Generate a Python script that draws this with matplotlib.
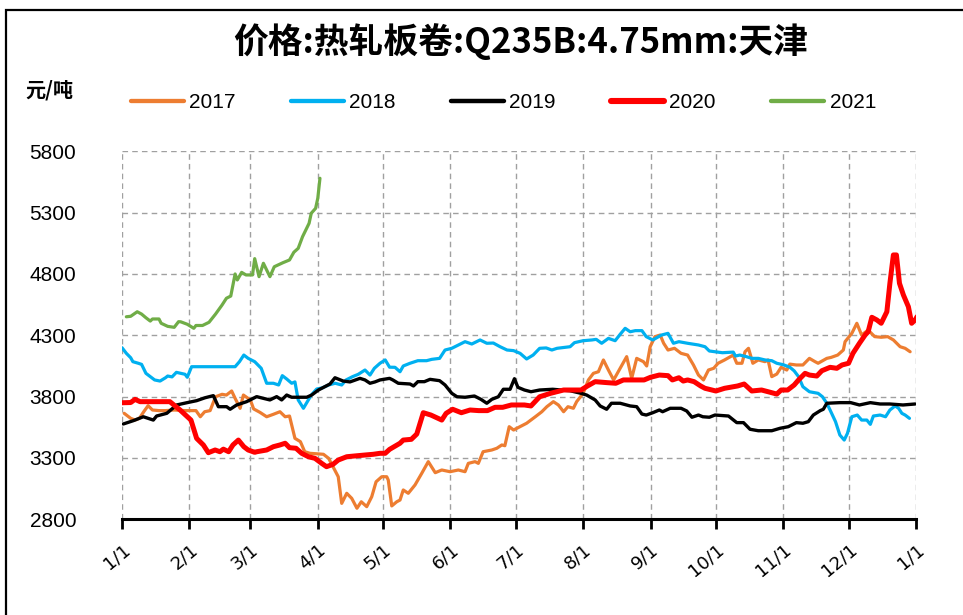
import matplotlib
matplotlib.use('Agg')
import matplotlib.pyplot as plt
from matplotlib.patches import Rectangle

plt.rcParams['font.family'] = ['Liberation Sans', 'Noto Sans CJK SC', 'DejaVu Sans']

title = "价格:热轧板卷:Q235B:4.75mm:天津"
unit_label = "元/吨"
month_days = [0, 31, 59, 90, 120, 151, 181, 212, 243, 273, 304, 334, 365]
month_labels = ['1/1', '2/1', '3/1', '4/1', '5/1', '6/1', '7/1', '8/1', '9/1',
                '10/1', '11/1', '12/1', '1/1']
y_ticks = [2800, 3300, 3800, 4300, 4800, 5300, 5800]

days_2017 = [1, 4, 6, 8, 10, 12, 14, 17, 20, 24, 29, 34, 36, 38, 40.5, 43, 46, 48, 50.4, 52, 54.3, 55.8,
             58, 59, 60.5, 63.4, 66.5, 69.6, 72.6, 75, 77, 79.5, 82, 84, 86.4, 92.6, 95, 97, 99.4, 101,
             103.3, 105.6, 108, 110, 112.5, 114.8, 116.8, 119.4, 121.7, 122.4, 124, 126.3, 127.8, 129.3,
             131.6, 134.7, 137.8, 140.8, 144, 147, 150.8, 154.6, 157.7, 159.2, 162.3, 163.8, 166, 170,
             172.3, 174.6, 176, 178, 180, 183, 186, 190, 193, 195.3, 198.3, 200.6, 203, 205, 207.5, 209,
             212, 214.4, 216.7, 219, 221.3, 223.6, 226, 229, 232, 234.3, 236.6, 239.7, 241.2, 242.8, 245,
             247.4, 249, 251, 254, 257, 260, 262.7, 265, 267.3, 269.6, 272, 274, 277, 281, 282.6, 285,
             286.4, 288, 290, 292.5, 295.6, 297, 298.7, 301, 303, 305.6, 307, 310, 313, 316, 318.6, 320,
             324, 326, 329, 331.6, 332.4, 335.5, 337.8, 340, 343, 346, 349, 352, 354.6, 357.7, 360, 362.3]
vals_2017 = [3664, 3623, 3609, 3623, 3677, 3726, 3691, 3686, 3686, 3691, 3686, 3686, 3636, 3677, 3686, 3799,
             3819, 3813, 3846, 3786, 3705, 3813, 3786, 3773, 3700, 3672, 3636, 3656, 3677, 3636, 3642, 3460,
             3433, 3351, 3338, 3330, 3297, 3229, 3147, 2930, 3012, 2971, 2890, 2943, 2903, 2984, 3106, 3147,
             3147, 3120, 2909, 2943, 2957, 3039, 3012, 3080, 3175, 3270, 3180, 3202, 3188, 3202, 3188, 3256,
             3270, 3256, 3351, 3365, 3379, 3406, 3400, 3555, 3528, 3555, 3583, 3636, 3677, 3718, 3759, 3732,
             3677, 3718, 3705, 3759, 3827, 3936, 3990, 4003, 4099, 4017, 3936, 4031, 4126, 3949, 4112, 4085,
             4050, 4207, 4289, 4302, 4235, 4180, 4194, 4153, 4139, 4058, 3976, 3936, 4017, 4031, 4072, 4099,
             4139, 4072, 4072, 4166, 4194, 4072, 4099, 4085, 4099, 3963, 3984, 4039, 4017, 4065, 4058, 4058,
             4112, 4085, 4072, 4112, 4120, 4139, 4180, 4248, 4316, 4398, 4302, 4343, 4289, 4284, 4289, 4262,
             4207, 4194, 4166]

days_2018 = [0, 2, 4, 5, 7.5, 9, 11, 14, 15, 17.5, 20, 21, 23, 25, 27, 29, 30, 32, 36, 52, 54, 56, 58, 61,
             64, 66.5, 69.6, 72, 73.7, 75.7, 78, 79.5, 81, 83.4, 85.7, 87, 89.5, 92, 95, 98, 101, 103, 106,
             108.6, 111.7, 114, 116, 118.6, 121, 123, 125.5, 127.8, 129.3, 132.4, 136, 140, 142.4, 146,
             148.5, 151.6, 154, 157.7, 160.8, 164.6, 167.7, 170.7, 173.8, 177, 180, 183, 186, 189, 192, 195,
             197.6, 200, 206, 208, 212, 216, 218, 220.5, 223.6, 226.7, 229, 231.3, 233.6, 236, 239, 241,
             244, 248, 251, 253.5, 256, 260, 265, 268, 270, 276, 281, 282, 284, 287, 289.5, 292.5, 295.6,
             298.7, 301, 304, 307, 309, 311, 313, 316, 320, 322, 324, 325.5, 328, 330, 332, 333.5, 335.5,
             338, 340, 342.4, 344, 345.4, 348.5, 351, 353, 355.4, 357, 358.5, 360, 362]
vals_2018 = [4199, 4153, 4117, 4085, 4072, 4063, 3990, 3949, 3936, 3927, 3954, 3968, 3961, 3998, 3990, 3982,
             3958, 4044, 4044, 4044, 4085, 4139, 4112, 4085, 4031, 3909, 3909, 3895, 3971, 3944, 3909, 3920,
             3773, 3705, 3773, 3813, 3862, 3871, 3895, 3909, 3895, 3936, 3963, 3982, 4017, 3976, 4031, 4072,
             4099, 4040, 4039, 4003, 4050, 4072, 4093, 4093, 4104, 4112, 4180, 4194, 4215, 4248, 4229, 4262,
             4235, 4237, 4207, 4180, 4175, 4153, 4107, 4139, 4194, 4197, 4180, 4194, 4207, 4240, 4256, 4262,
             4267, 4235, 4275, 4256, 4308, 4357, 4329, 4338, 4338, 4289, 4262, 4302, 4316, 4235, 4248, 4235,
             4221, 4207, 4172, 4158, 4163, 4131, 4139, 4126, 4112, 4112, 4099, 4093, 4072, 4060, 4040, 4010,
             3963, 3881, 3840, 3827, 3799, 3746, 3691, 3596, 3487, 3446, 3501, 3636, 3650, 3609, 3609, 3574,
             3642, 3650, 3636, 3691, 3724, 3705, 3664, 3650, 3623]

days_2019 = [0.6, 5.2, 9.8, 14.4, 15.9, 20.6, 25.1, 29.7, 34.3, 38.2, 42, 44.3, 48.1, 49.7, 52.7, 57.3,
             61.9, 65, 68, 71.1, 73.4, 75.7, 78, 84.9, 87.2, 90.3, 95.6, 97.9, 101.7, 104.8, 109.4, 111.7,
             114, 116.3, 118.6, 123, 124.5, 127, 132.4, 134, 136, 139,
             141.6, 146, 148.5, 151.6, 154, 157.7, 162, 165, 167.7, 170, 173, 175.3, 178.4, 180.4, 182,
             185, 188, 192, 198, 206, 211, 213.6, 217.5, 219.8, 222.8, 225, 229, 233.6, 236.6, 239, 241,
             244, 247, 248.5, 252, 257, 259.6, 262, 265, 267, 270, 272.6, 278.8, 282.6, 285.7, 288.7, 292.5,
             298.7, 302.5, 306.3, 310, 313, 315.5, 317.8, 321, 322.4, 324, 330, 335, 339, 344, 348.5, 353,
             359, 364.6]
vals_2019 = [3577, 3604, 3636, 3609, 3642, 3664, 3732, 3750, 3767, 3791, 3808, 3718, 3718, 3697, 3732, 3759,
             3800, 3786, 3773, 3800, 3773, 3813, 3795, 3795, 3813, 3854, 3903, 3954, 3927, 3920, 3949, 3936,
             3909, 3920, 3936, 3949, 3936,
             3909, 3903, 3887, 3922, 3922, 3941, 3930, 3895, 3827, 3799, 3795, 3805, 3778, 3746, 3778, 3799,
             3860, 3860, 3946, 3876, 3854, 3840, 3854, 3860, 3848, 3827, 3813, 3773, 3724, 3697, 3746, 3746,
             3724, 3718, 3658, 3650, 3669, 3691, 3677, 3705, 3705, 3683, 3632, 3650, 3636, 3632, 3650, 3642,
             3588, 3588, 3534, 3522, 3522, 3542, 3555, 3588, 3583, 3596, 3650, 3686, 3697, 3746, 3751, 3751,
             3732, 3751, 3740, 3740, 3732, 3740]

days_2020 = [0, 4, 6, 8.3, 15, 22, 26.7, 31.7, 34.3, 37.4, 39.7, 42.8, 45, 46.6, 49, 51, 53.5, 56,
             58, 61, 62, 66.5, 69.6, 72.6, 75, 77, 80, 82.6, 85.7, 88.7, 91.8, 94, 97, 99.4, 103.3, 108,
             111.7, 115.5, 118.6, 121, 123, 127.8, 129.3, 133, 135.5, 138.5, 142, 147, 149, 152, 156, 160,
             164, 168, 171.5, 175, 179, 185, 188, 192, 197, 203, 211, 214, 217.5, 223, 227, 230.5, 240, 243,
             247, 251, 253, 256, 258, 260, 263, 266, 268, 273, 277, 283, 286, 289.5, 294, 297, 301, 303, 306,
             309, 311, 314, 316, 319.4, 321.7, 325.5, 328.6, 331, 334, 336, 339, 341.6, 343, 344.7, 347, 349,
             351.6, 353, 354.6, 356, 357.4, 359.2, 361.5, 363, 364.6, 365.5]
vals_2020 = [3750, 3752, 3778, 3759, 3759, 3759, 3691, 3609, 3460, 3406, 3343, 3365, 3351, 3372,
             3351, 3406, 3446, 3392, 3365, 3346, 3351, 3365, 3392, 3406, 3420, 3384, 3379, 3338, 3310, 3297,
             3256, 3229, 3248, 3283, 3310, 3318, 3324, 3330, 3338, 3338, 3370, 3420, 3446, 3452, 3495, 3669,
             3650, 3609, 3664, 3697, 3669, 3691, 3686, 3686, 3713, 3713, 3732, 3732, 3724, 3799, 3827, 3854,
             3854, 3887, 3922, 3914, 3909, 3936, 3936, 3958, 3976, 3971, 3936, 3954, 3927, 3936, 3922, 3887,
             3868, 3846, 3868, 3887, 3903, 3846, 3854, 3840, 3821, 3854, 3854, 3895, 3936, 3990, 3976, 3968,
             4011, 4039, 4031, 4058, 4072, 4153, 4235, 4302, 4329, 4447, 4425, 4398, 4492, 4724, 4955, 4955,
             4724, 4629, 4533, 4398, 4425, 4452]

days_2021 = [2, 4, 7, 9, 11, 13, 14, 17, 18, 21, 24, 26, 27, 30, 33, 34, 37, 40, 43, 46, 48, 50, 52, 53,
             55, 57, 60, 61, 63, 65, 68, 70, 74, 77, 79, 81, 83, 86, 87, 89, 90, 91]
vals_2021 = [4451, 4455, 4492, 4473, 4443, 4416, 4433, 4433, 4398, 4373, 4365, 4411, 4410, 4390, 4357, 4380,
             4380, 4406, 4473, 4547, 4602, 4620, 4800, 4751, 4813, 4792, 4792, 4925, 4778, 4887, 4778, 4859,
             4892, 4914, 4977, 5009, 5104, 5213, 5295, 5335, 5417, 5580]

series_names = ['2017', '2018', '2019', '2020', '2021']
series_days = [days_2017, days_2018, days_2019, days_2020, days_2021]
series_vals = [vals_2017, vals_2018, vals_2019, vals_2020, vals_2021]
colors = ['#ED7D31', '#00B0F0', '#000000', '#FF0000', '#70AD47']
widths = [2.3, 2.3, 2.4, 3.6, 2.3]

W, H = 963, 615
fig = plt.figure(figsize=(W / 100, H / 100), dpi=100)
ax = fig.add_axes([122 / W, 1 - 519.3 / H, (916 - 122) / W, (519.3 - 151.3) / H])

handles = []
for name, d, v, c, lw in zip(series_names, series_days, series_vals, colors, widths):
    h, = ax.plot(d, v, color=c, lw=lw, label=name, solid_joinstyle='round', solid_capstyle='round')
    handles.append(h)

ax.set_xlim(0, 365)
ax.set_ylim(2800, 5800)
ax.set_xticks(month_days)
ax.set_xticklabels(month_labels, rotation=40, ha='right', va='top', rotation_mode='anchor',
                   fontsize=13, family=['DejaVu Sans'])
ax.set_yticks(y_ticks)
ax.set_yticklabels([str(t) for t in y_ticks], fontsize=15)
ax.tick_params(axis='y', length=0, pad=33)
ax.tick_params(axis='x', length=7, width=2, direction='out', pad=8)
for s in ['left', 'top', 'right']:
    ax.spines[s].set_visible(False)
ax.spines['bottom'].set_linewidth(2.2)
ax.grid(True, color='#A0A0A0', linestyle=(0, (4, 3)), linewidth=1)
ax.set_axisbelow(True)

fig.text(521 / W, 1 - 42 / H, title, ha='center', va='center', fontsize=25, fontweight='bold',
         family=['Noto Sans CJK SC', 'DejaVu Sans'])
fig.text(25 / W, 1 - 90 / H, unit_label, ha='left', va='center', fontsize=14.5, fontweight='bold',
         family=['Noto Sans CJK SC', 'DejaVu Sans'])

leg = fig.legend(handles=handles, labels=series_names, ncol=5, loc='center left',
                 bbox_to_anchor=(131 / W, 1 - 103 / H), frameon=False, fontsize=15,
                 handlelength=2.55, handletextpad=0.25, columnspacing=2.65,
                 borderpad=0, borderaxespad=0)
for lh, lw in zip(leg.get_lines(), widths):
    lh.set_linewidth(lw + 0.8)

fig.patches.append(Rectangle((6 / W, -0.1), 1.2, 1.1 - 10 / H, transform=fig.transFigure,
                             fill=False, edgecolor='black', linewidth=1.6))

fig.savefig('out.png', dpi=100)
